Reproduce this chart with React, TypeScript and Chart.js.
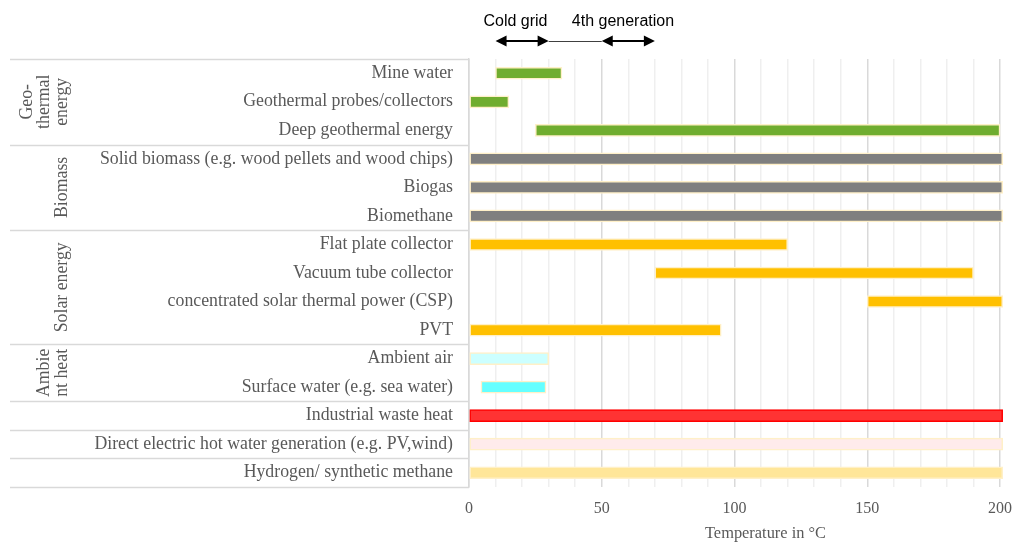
import React, { useEffect, useRef } from "react";
import { Chart, registerables } from "chart.js";

Chart.register(...registerables);

const categories = [
  "Mine water",
  "Geothermal probes/collectors",
  "Deep geothermal energy",
  "Solid biomass (e.g. wood pellets and wood chips)",
  "Biogas",
  "Biomethane",
  "Flat plate collector",
  "Vacuum tube collector",
  "concentrated solar thermal power (CSP)",
  "PVT",
  "Ambient air",
  "Surface water (e.g. sea water)",
  "Industrial waste heat",
  "Direct electric hot water generation (e.g. PV,wind)",
  "Hydrogen/ synthetic methane",
];

const startTemps = [10, 0, 25, 0, 0, 0, 0, 70, 150, 0, 0, 4.5, 0, 0, 0];
const endTemps = [35, 15, 200, 201, 201, 201, 120, 190, 201, 95, 30, 29, 201, 201, 201];

const barColors = [
  "#70AD2F", "#70AD2F", "#70AD2F",
  "#7F7F7F", "#7F7F7F", "#7F7F7F",
  "#FFC000", "#FFC000", "#FFC000", "#FFC000",
  "#CCFFFF", "#66FFFF",
  "#FF3333", "#FFEBEB", "#FFE699",
];
const barBorders = [
  "#FFF0C8", "#FFF0C8", "#FFF0C8",
  "#FFF0C8", "#FFF0C8", "#FFF0C8",
  "#FFF0C8", "#FFF0C8", "#FFF0C8", "#FFF0C8",
  "#FFF0C8", "#FFF0C8",
  "#FF0000", "#FFF0C8", "#FFF0C8",
];

const groupLabels = [["Geo-", "thermal", "energy"], ["Biomass"], ["Solar energy"], ["Ambie", "nt heat"]];
const groupStart = [0, 3, 6, 10];
const groupEnd = [2, 5, 9, 11];
const separatorsAfter = [-1, 2, 5, 9, 11, 12, 13, 14];

const xTicks = [0, 50, 100, 150, 200];
const xTitle = "Temperature in °C";
const gridNames = ["Cold grid", "4th generation"];
const gridTextAt = [17.5, 58];
const coldArrow = [10, 30];
const linkLine = [30, 50];
const fourthArrow = [50, 70];

const SERIF = "'Liberation Serif', 'Times New Roman', serif";
const SANS = "'Liberation Sans', Arial, sans-serif";

const overlayPlugin = {
  id: "overlay",
  afterDraw(chart: any) {
    const ctx = chart.ctx;
    const y = chart.scales.y;
    const x = chart.scales.x;
    const area = chart.chartArea;
    const rowH = y.getPixelForValue(1) - y.getPixelForValue(0);
    ctx.save();
    // table separators
    ctx.strokeStyle = "#D9D9D9";
    ctx.lineWidth = 1.5;
    separatorsAfter.forEach((i) => {
      const py = Math.round(y.getPixelForValue(i) + rowH / 2) + 0.5;
      ctx.beginPath();
      ctx.moveTo(10, py);
      ctx.lineTo(area.left, py);
      ctx.stroke();
    });
    // group labels
    ctx.fillStyle = "#595959";
    ctx.font = `17.8px ${SERIF}`;
    ctx.textAlign = "center";
    ctx.textBaseline = "middle";
    groupLabels.forEach((lines, g) => {
      const cy = (y.getPixelForValue(groupStart[g]) + y.getPixelForValue(groupEnd[g])) / 2;
      lines.forEach((t, i) => {
        const cx = 62 - (lines.length - 1 - i) * 17.5;
        ctx.save();
        ctx.translate(cx, cy);
        ctx.rotate(-Math.PI / 2);
        ctx.fillText(t, 0, 0);
        ctx.restore();
      });
    });
    // axis title
    ctx.font = `16.4px ${SERIF}`;
    ctx.fillText(xTitle, (area.left + area.right) / 2 + 31, 534);
    // top annotation
    ctx.fillStyle = "#000000";
    ctx.font = `16px ${SANS}`;
    gridNames.forEach((t, i) => {
      ctx.fillText(t, x.getPixelForValue(gridTextAt[i]), 22);
    });
    const ay = 41;
    const arrow = (a: number, b: number) => {
      const x1 = x.getPixelForValue(a);
      const x2 = x.getPixelForValue(b);
      const hl = 11;
      const hw = 5.5;
      ctx.strokeStyle = "#000000";
      ctx.lineWidth = 2;
      ctx.beginPath();
      ctx.moveTo(x1 + hl - 1, ay);
      ctx.lineTo(x2 - hl + 1, ay);
      ctx.stroke();
      ctx.beginPath();
      ctx.moveTo(x1, ay);
      ctx.lineTo(x1 + hl, ay - hw);
      ctx.lineTo(x1 + hl, ay + hw);
      ctx.closePath();
      ctx.fill();
      ctx.beginPath();
      ctx.moveTo(x2, ay);
      ctx.lineTo(x2 - hl, ay - hw);
      ctx.lineTo(x2 - hl, ay + hw);
      ctx.closePath();
      ctx.fill();
    };
    arrow(coldArrow[0], coldArrow[1]);
    arrow(fourthArrow[0], fourthArrow[1]);
    ctx.strokeStyle = "#404040";
    ctx.lineWidth = 1;
    ctx.beginPath();
    ctx.moveTo(x.getPixelForValue(linkLine[0]), ay + 0.5);
    ctx.lineTo(x.getPixelForValue(linkLine[1]), ay + 0.5);
    ctx.stroke();
    ctx.restore();
  },
};

export default function App() {
  const ref = useRef<HTMLCanvasElement | null>(null);
  useEffect(() => {
    if (!ref.current) return;
    const chart = new Chart(ref.current, {
      type: "bar",
      data: {
        labels: categories,
        datasets: [
          {
            data: categories.map((_, i) => [startTemps[i], endTemps[i]]) as any,
            backgroundColor: barColors,
            borderColor: barBorders,
            borderWidth: 1.5,
            borderSkipped: false,
            barThickness: 12,
            clip: false as any,
          },
        ],
      },
      options: {
        indexAxis: "y",
        animation: false,
        responsive: false,
        events: [],
        layout: { padding: { top: 59, right: 12, left: 0, bottom: 0 } },
        plugins: { legend: { display: false }, tooltip: { enabled: false } },
        scales: {
          x: {
            type: "linear",
            min: 0,
            max: 200,
            afterBuildTicks(scale: any) {
              const t: any[] = [];
              for (let v = 0; v <= 200; v += 10) t.push({ value: v });
              scale.ticks = t;
            },
            afterFit(scale: any) {
              scale.height = 56;
              scale.paddingLeft = 0;
              scale.paddingRight = 0;
            },
            ticks: {
              autoSkip: false,
              maxRotation: 0,
              padding: 12,
              color: "#595959",
              font: { family: SERIF, size: 16 },
              callback: (v: any) => (xTicks.includes(Number(v)) ? String(v) : ""),
            },
            grid: {
              drawTicks: false,
              color: (c: any) => (c.tick && c.tick.value % 50 === 0 ? "#D9D9D9" : "#EFEFEF"),
              lineWidth: 1.5,
            },
            border: { display: false },
            title: { display: false },
          },
          y: {
            type: "category",
            afterFit(scale: any) {
              scale.width = 469;
            },
            ticks: {
              padding: 16,
              color: "#595959",
              autoSkip: false,
              font: { family: SERIF, size: 17.8 },
            },
            grid: { display: false, drawTicks: false },
            border: { display: true, color: "#D9D9D9", width: 1.5 },
          },
        },
      } as any,
      plugins: [overlayPlugin],
    });
    return () => chart.destroy();
  }, []);
  return (
    <div style={{ position: "absolute", left: 0, top: 0, width: 1012, height: 543, background: "#fff" }}>
      <canvas ref={ref} width={1012} height={543} style={{ display: "block" }} />
    </div>
  );
}
